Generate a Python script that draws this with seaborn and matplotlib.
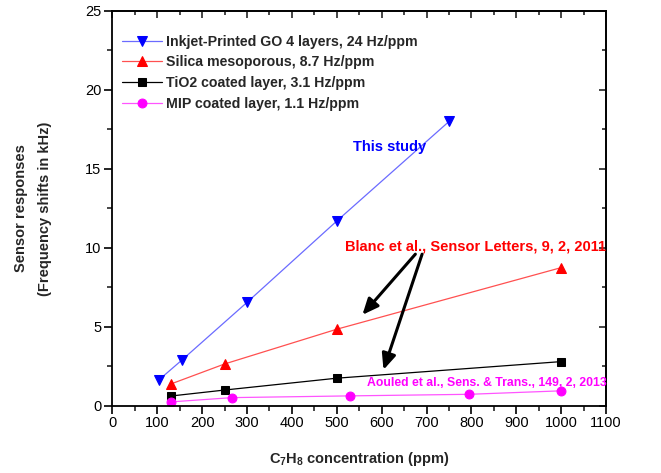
import numpy as np
import pandas as pd
import matplotlib
matplotlib.use("Agg")
import matplotlib.pyplot as plt
from matplotlib.ticker import MultipleLocator
import seaborn as sns

# === DATA ===
go_x = [104, 155, 300, 500, 750]
go_y = [1.65, 2.9, 6.55, 11.7, 18.0]

silica_x = [130, 250, 500, 1000]
silica_y = [1.38, 2.65, 4.85, 8.75]

tio2_x = [130, 250, 500, 1000]
tio2_y = [0.62, 1.0, 1.75, 2.8]

mip_x = [131, 267, 530, 795, 1000]
mip_y = [0.25, 0.52, 0.63, 0.73, 0.95]

labels = ["Inkjet-Printed GO 4 layers, 24 Hz/ppm",
          "Silica mesoporous, 8.7 Hz/ppm",
          "TiO2 coated layer, 3.1 Hz/ppm",
          "MIP coated layer, 1.1 Hz/ppm"]

# === STYLE ===
sns.set_theme(style="white")
plt.rcParams["font.family"] = ["Liberation Sans", "DejaVu Sans"]
plt.rcParams["mathtext.default"] = "regular"

fig = plt.figure(figsize=(6.61, 4.73), dpi=100)
ax = fig.add_axes([0.170, 0.142, 0.747, 0.835])

series = [
    (go_x, go_y, labels[0], "v", 7.6, "#0000ff", "#6b6bff"),
    (silica_x, silica_y, labels[1], "^", 7.6, "#ff0000", "#ff5050"),
    (tio2_x, tio2_y, labels[2], "s", 5.5, "#000000", "#000000"),
    (mip_x, mip_y, labels[3], "o", 6.4, "#ff00ff", "#ff55ff"),
]

for xs, ys, lab, mk, ms, mcol, lcol in series:
    df = pd.DataFrame({"x": xs, "y": ys})
    sns.lineplot(data=df, x="x", y="y", ax=ax, label=lab, color=lcol,
                 linewidth=0.9, marker=mk, markersize=ms,
                 markerfacecolor=mcol, markeredgecolor=mcol, sort=False)

ax.set_xlim(0, 1100)
ax.set_ylim(0, 25)
ax.xaxis.set_major_locator(MultipleLocator(100))
ax.xaxis.set_minor_locator(MultipleLocator(50))
ax.yaxis.set_major_locator(MultipleLocator(5))
ax.yaxis.set_minor_locator(MultipleLocator(2.5))

for sp in ax.spines.values():
    sp.set_color("black")
    sp.set_linewidth(1.3)

ax.tick_params(which="major", direction="out", length=6, width=1.2,
               labelsize=10.5, colors="black", pad=2, bottom=True, left=True)
ax.tick_params(axis="x", which="major", pad=1)
ax.tick_params(which="minor", direction="out", length=3.5, width=1.2,
               bottom=True, left=True)

top = ax.secondary_xaxis("top")
top.xaxis.set_major_locator(MultipleLocator(100))
top.xaxis.set_minor_locator(MultipleLocator(50))
top.tick_params(which="major", direction="in", length=5, width=1.2, labeltop=False)
top.tick_params(which="minor", direction="in", length=3, width=1.2)
right = ax.secondary_yaxis("right")
right.yaxis.set_major_locator(MultipleLocator(5))
right.yaxis.set_minor_locator(MultipleLocator(2.5))
right.tick_params(which="major", direction="in", length=5, width=1.2, labelright=False)
right.tick_params(which="minor", direction="in", length=3, width=1.2)
for s in (top, right):
    for sp in s.spines.values():
        sp.set_linewidth(1.3)

ax.set_xlabel("C$_7$H$_8$ concentration (ppm)", fontsize=10.5,
              fontweight="bold", labelpad=15)
ax.set_ylabel("Sensor responses\n(Frequency shifts in kHz)", fontsize=10.5,
              fontweight="bold", labelpad=24, linespacing=1.9)

# annotations
ax.text(617, 16.4, "This study", color="#0000ff", fontsize=10.5,
        fontweight="bold", ha="center", va="center")
ax.text(809, 10.1, "Blanc et al., Sensor Letters, 9, 2, 2011", color="#ff0000",
        fontsize=10.5, fontweight="bold", ha="center", va="center")
ax.text(834, 1.45, "Aouled et al., Sens. & Trans., 149, 2, 2013", color="#ff00ff",
        fontsize=8.8, fontweight="bold", ha="center", va="center")

arrow_kw = dict(arrowstyle="-|>,head_length=0.8,head_width=0.35",
                color="black", lw=2.2, shrinkA=0, shrinkB=0)
ax.annotate("", xy=(557, 5.76), xytext=(675, 9.6), arrowprops=arrow_kw)
ax.annotate("", xy=(604, 2.28), xytext=(690, 9.6), arrowprops=arrow_kw)

leg = ax.legend(loc="upper left", bbox_to_anchor=(0.0, 0.965), frameon=False,
                fontsize=10.2, handlelength=2.8, handletextpad=0.3,
                labelspacing=0.48, borderaxespad=0.3)
for t in leg.get_texts():
    t.set_fontweight("bold")

fig.savefig("out.png", dpi=100)
